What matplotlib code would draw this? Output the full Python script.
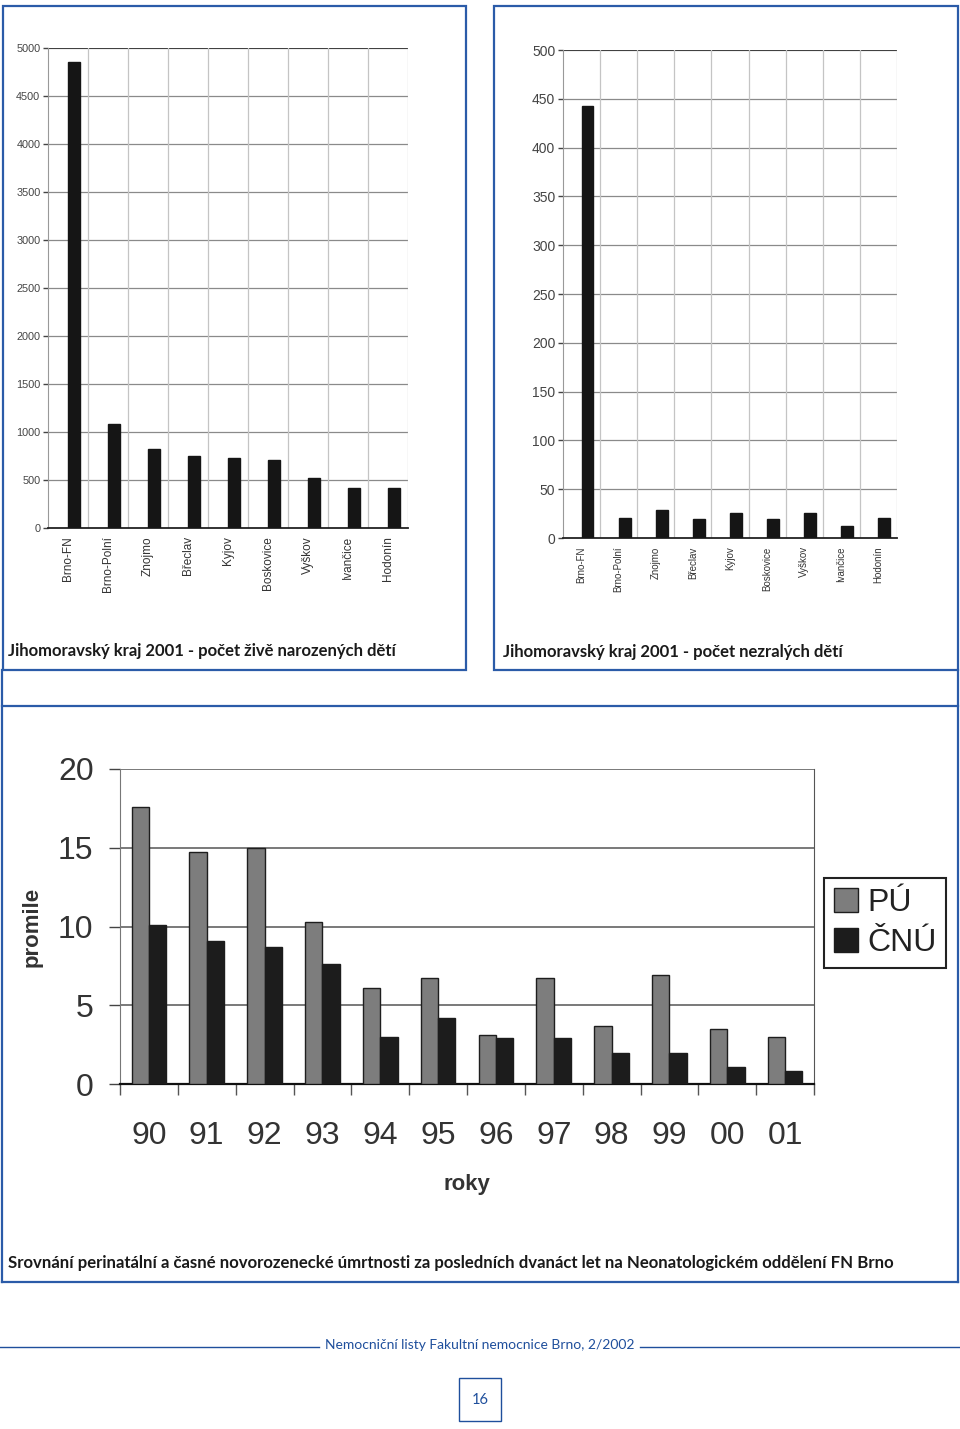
import matplotlib
matplotlib.use("Agg")
import matplotlib.pyplot as plt
from matplotlib.patches import Rectangle
import numpy as np

# ---------------- data ----------------
districts = ["Brno-FN", "Brno-Polní", "Znojmo", "Břeclav", "Kyjov",
             "Boskovice", "Vyškov", "Ivančice", "Hodonín"]
live_births = [4850, 1085, 825, 750, 730, 705, 525, 412, 412]
premature = [443, 20, 29, 19, 26, 19, 26, 12, 21]

years = ["90", "91", "92", "93", "94", "95", "96", "97", "98", "99", "00", "01"]
pu = [17.6, 14.7, 15.0, 10.3, 6.1, 6.7, 3.1, 6.7, 3.7, 6.9, 3.5, 3.0]
cnu = [10.1, 9.1, 8.7, 7.6, 3.0, 4.2, 2.9, 2.9, 2.0, 2.0, 1.1, 0.8]

title_left = "Jihomoravský kraj 2001 - počet živě narozených dětí"
title_right = "Jihomoravský kraj 2001 - počet nezralých dětí"
title_bottom = ("Srovnání perinatální a časné novorozenecké úmrtnosti za posledních "
                "dvanáct let na Neonatologickém oddělení FN Brno")
footer = "Nemocniční listy Fakultní nemocnice Brno, 2/2002"
page_no = "16"

# ---------------- layout helpers ----------------
W, H = 960, 1429
fig = plt.figure(figsize=(W / 100, H / 100), dpi=100)
fig.patch.set_facecolor("white")

BLUE = "#2b5ba8"
FOOT_BLUE = "#1f4f9c"

overlay = fig.add_axes([0, 0, 1, 1])
overlay.set_xlim(0, W)
overlay.set_ylim(H, 0)
overlay.axis("off")
overlay.set_zorder(5)
overlay.patch.set_visible(False)


def ax_px(x0, y0, x1, y1):
    return fig.add_axes([x0 / W, 1 - y1 / H, (x1 - x0) / W, (y1 - y0) / H])


def rect(x0, y0, x1, y1, color=BLUE, lw=1.6):
    overlay.add_patch(Rectangle((x0, y0), x1 - x0, y1 - y0, fill=False,
                                edgecolor=color, linewidth=lw))


# panel frames
rect(3, 6, 466, 670)
rect(494, 6, 958, 670)
overlay.plot([2, 2], [670, 1282], color=BLUE, lw=1.6)
overlay.plot([958, 958], [670, 1282], color=BLUE, lw=1.6)
overlay.plot([2, 958], [706, 706], color=BLUE, lw=1.6)
overlay.plot([2, 958], [1282, 1282], color=BLUE, lw=1.6)

TFONT = ["Lato", "DejaVu Sans"]
overlay.text(8, 651, title_left, fontsize=12, fontweight="bold", family=TFONT,
             color="#1a1a1a", va="center", ha="left")
overlay.text(503, 652, title_right, fontsize=12, fontweight="bold", family=TFONT,
             color="#1a1a1a", va="center", ha="left")
overlay.text(8, 1263, title_bottom, fontsize=12.05, fontweight="bold", family=TFONT,
             color="#1a1a1a", va="center", ha="left")

# footer
overlay.plot([0, 319], [1347, 1347], color=FOOT_BLUE, lw=1.0)
overlay.plot([640, 960], [1347, 1347], color=FOOT_BLUE, lw=1.0)
overlay.text(480, 1345, footer, fontsize=10, family=TFONT, color=FOOT_BLUE,
             ha="center", va="center")
rect(459, 1378, 501, 1421, color=FOOT_BLUE, lw=1.0)
overlay.text(480, 1400, page_no, fontsize=10.5, family=TFONT, color=FOOT_BLUE,
             ha="center", va="center")

SANS = ["Liberation Sans", "DejaVu Sans"]


def small_chart(ax, values, ymax, ystep, label_fs, tick_fs, bar_off, bar_w):
    n = len(values)
    x = np.arange(n)
    ax.set_xlim(-0.5, n - 0.5)
    ax.set_ylim(0, ymax)
    for yv in np.arange(ystep, ymax + 1, ystep):
        ax.axhline(yv, color="#8a8a8a", lw=0.9, zorder=0)
    ax.axhline(ymax, color="#333333", lw=1.2, zorder=0)
    for xb in np.arange(-0.5, n, 1.0)[1:]:
        ax.axvline(xb, color="#c4c4c4", lw=0.9, zorder=0)
    ax.bar(x + bar_off, values, width=bar_w, color="#151515",
           edgecolor="#151515", zorder=3)
    ax.set_yticks(np.arange(0, ymax + 1, ystep))
    ax.set_yticklabels([str(int(v)) for v in np.arange(0, ymax + 1, ystep)],
                       fontsize=tick_fs, color="#444444", family=SANS)
    ax.set_xticks(x)
    ax.set_xticklabels(districts, rotation=90, fontsize=label_fs,
                       color="#333333", family=SANS)
    ax.tick_params(axis="y", length=3.5, width=1.0, color="#444444", pad=2)
    ax.tick_params(axis="x", length=0, pad=6)
    for s in ["top", "right"]:
        ax.spines[s].set_visible(False)
    ax.spines["left"].set_color("#999999")
    ax.spines["bottom"].set_color("#222222")
    ax.spines["bottom"].set_linewidth(1.3)


ax1 = ax_px(48, 48, 408, 528)
small_chart(ax1, live_births, 5000, 500, 8.5, 7.8, 0.14, 0.3)

ax2 = ax_px(563, 50, 897, 538)
small_chart(ax2, premature, 500, 50, 7, 10, 0.16, 0.32)

# ---------------- bottom chart ----------------
ax3 = ax_px(120, 769, 814, 1084)
n = len(years)
x = np.arange(n)
ax3.set_xlim(-0.5, n - 0.5)
ax3.set_ylim(0, 20)
for yv in [5, 10, 15, 20]:
    ax3.axhline(yv, color="#555555", lw=1.1, zorder=0)
b1 = ax3.bar(x - 0.15, pu, width=0.3, color="#7d7d7d", edgecolor="#1e1e1e",
             lw=1.0, zorder=3, label="PÚ")
b2 = ax3.bar(x + 0.15, cnu, width=0.3, color="#1c1c1c", edgecolor="#1c1c1c",
             lw=1.0, zorder=3, label="ČNÚ")
ax3.set_yticks([0, 5, 10, 15, 20])
ax3.set_yticklabels(["0", "5", "10", "15", "20"], fontsize=23, color="#333333",
                    family=SANS)
ax3.set_xticks(x)
ax3.set_xticklabels(years, fontsize=23, color="#333333", family=SANS)
ax3.set_xticks(np.arange(-0.5, n, 1.0), minor=True)
ax3.tick_params(axis="x", which="major", length=0, pad=27)
ax3.tick_params(axis="x", which="minor", length=8, width=1.0, color="#555555")
ax3.tick_params(axis="y", length=8, width=1.0, color="#444444", pad=11)
ax3.spines["top"].set_visible(False)
ax3.spines["left"].set_color("#777777")
ax3.spines["right"].set_color("#555555")
ax3.spines["bottom"].set_color("#111111")
ax3.spines["bottom"].set_linewidth(1.6)
ax3.set_xlabel("roky", fontsize=16, fontweight="bold", family=SANS,
               color="#333333", labelpad=16)
ax3.set_ylabel("promile", fontsize=16, fontweight="bold", family=SANS,
               color="#333333", labelpad=11)

leg = ax3.legend(handles=[b1, b2], loc="center left",
                 bbox_to_anchor=(824 / W, 1 - 923 / H),
                 bbox_transform=fig.transFigure, frameon=True,
                 fancybox=False, edgecolor="#222222", framealpha=1,
                 handlelength=0.75, handleheight=0.8, handletextpad=0.3,
                 borderpad=0.3, labelspacing=0.3, borderaxespad=0,
                 prop={"family": SANS, "size": 23})
leg.get_frame().set_linewidth(1.5)
for t in leg.get_texts():
    t.set_color("#222222")

fig.savefig("out.png", dpi=100, facecolor="white")
